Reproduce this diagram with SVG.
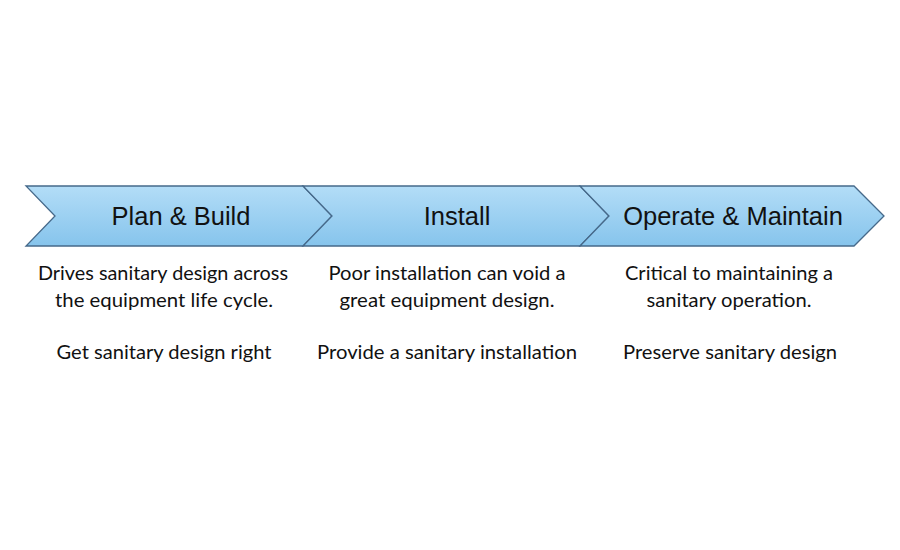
<svg xmlns="http://www.w3.org/2000/svg" width="900" height="550" viewBox="0 0 900 550">
<defs>
<linearGradient id="g" x1="0" y1="0" x2="0" y2="1">
<stop offset="0" stop-color="#b3ddf7"/>
<stop offset="1" stop-color="#86c4ec"/>
</linearGradient>
</defs>
<style>
.chev{fill:url(#g);stroke:#46698a;stroke-width:1.3;stroke-linejoin:miter}
.hd{font-family:"Liberation Sans",Arial,sans-serif;font-size:25.5px;fill:#111;text-anchor:middle}
.bd{font-family:Lato,"Open Sans",sans-serif;font-size:20px;fill:#111;text-anchor:middle}
</style>
<rect width="900" height="550" fill="#fff"/>
<g id="step-plan-build">
<polygon class="chev" points="26,186 303,186 332,216 303,246 26,246 55,216"/>
<text class="hd" x="181" y="225">Plan &amp; Build</text>
<text class="bd" x="163" y="280" textLength="250" lengthAdjust="spacingAndGlyphs">Drives sanitary design across</text>
<text class="bd" x="164" y="307" textLength="218" lengthAdjust="spacingAndGlyphs">the equipment life cycle.</text>
<text class="bd" x="164" y="359" textLength="215" lengthAdjust="spacingAndGlyphs">Get sanitary design right</text>
</g>
<g id="step-install">
<polygon class="chev" points="303,186 580,186 609,216 580,246 303,246 332,216"/>
<text class="hd" x="457" y="225">Install</text>
<text class="bd" x="447" y="280" textLength="237" lengthAdjust="spacingAndGlyphs">Poor installation can void a</text>
<text class="bd" x="447" y="307" textLength="215" lengthAdjust="spacingAndGlyphs">great equipment design.</text>
<text class="bd" x="447" y="359" textLength="260" lengthAdjust="spacingAndGlyphs">Provide a sanitary installation</text>
</g>
<g id="step-operate-maintain">
<polygon class="chev" points="580,186 854,186 884,216 854,246 580,246 609,216"/>
<text class="hd" x="733" y="225">Operate &amp; Maintain</text>
<text class="bd" x="729" y="280" textLength="208" lengthAdjust="spacingAndGlyphs">Critical to maintaining a</text>
<text class="bd" x="729" y="307" textLength="165" lengthAdjust="spacingAndGlyphs">sanitary operation.</text>
<text class="bd" x="730" y="359" textLength="214" lengthAdjust="spacingAndGlyphs">Preserve sanitary design</text>
</g>
<g id="connectors"></g>
</svg>
